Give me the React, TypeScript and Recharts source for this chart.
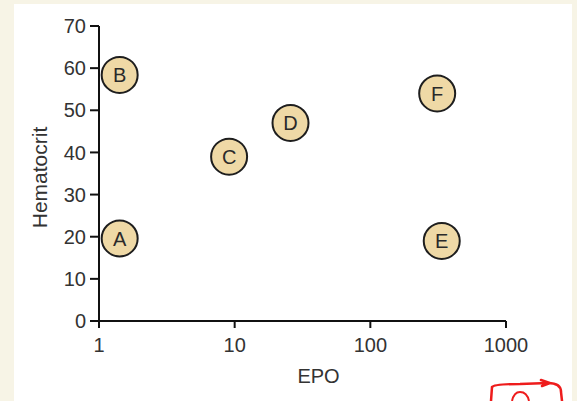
import { Scatter, ScatterChart, XAxis, YAxis, Label } from "recharts";

const pointLabels = ["A", "B", "C", "D", "E", "F"];
const epoValues = [1.42, 1.42, 9.1, 25.8, 336, 311];
const hematocritValues = [19.6, 58.4, 39, 47, 19, 54];
const xTicks = [1, 10, 100, 1000];
const yTicks = [0, 10, 20, 30, 40, 50, 60, 70];

const data = pointLabels.map((name, i) => ({
  name,
  epo: epoValues[i],
  hct: hematocritValues[i],
}));

const FONT = "'Liberation Sans', Arial, Helvetica, sans-serif";

const Dot = (props: any) => {
  const { cx, cy, payload } = props;
  return (
    <g>
      <circle cx={cx} cy={cy} r={18} fill="#efd9a6" stroke="#1e1e1e" strokeWidth={2} />
      <text
        x={cx}
        y={cy}
        dy="0.36em"
        textAnchor="middle"
        fontSize={20}
        fontFamily={FONT}
        fill="#2a2a2a"
      >
        {payload.name}
      </text>
    </g>
  );
};

const App = () => {
  return (
    <div style={{ position: "absolute", left: 0, top: 0, width: 577, height: 401, background: "#f7f4e6" }}>
      <div style={{ position: "absolute", left: 14, top: 4, width: 558, height: 397, background: "#ffffff" }} />
      <div style={{ position: "absolute", left: 0, top: 0 }}>
        <ScatterChart width={577} height={401} margin={{ top: 26, right: 71, bottom: 20, left: 39 }}>
          <XAxis
            type="number"
            dataKey="epo"
            scale="log"
            domain={[1, 1000]}
            ticks={xTicks}
            allowDataOverflow
            height={60}
            stroke="#111"
            strokeWidth={2}
            tickSize={7}
            tickMargin={10}
            tick={{ fill: "#333", fontSize: 20, fontFamily: FONT }}
          >
            <Label value="EPO" position="insideBottom" offset={-2} dx={16} fill="#333" fontSize={20} fontFamily={FONT} />
          </XAxis>
          <YAxis
            type="number"
            dataKey="hct"
            domain={[0, 70]}
            ticks={yTicks}
            width={60}
            stroke="#111"
            strokeWidth={2}
            tickSize={9}
            tickMargin={4}
            tick={{ fill: "#333", fontSize: 20, fontFamily: FONT }}
          >
            <Label
              value="Hematocrit"
              angle={-90}
              position="insideLeft"
              offset={-4}
              dy={4}
              dx={5}
              style={{ textAnchor: "middle" }}
              fill="#333"
              fontSize={21}
              fontFamily={FONT}
            />
          </YAxis>
          <Scatter data={data} shape={<Dot />} isAnimationActive={false} />
        </ScatterChart>
      </div>
      <svg style={{ position: "absolute", left: 0, top: 0 }} width={577} height={401}>
        <path
          d="M491,401 L492,387 Q494,384 520,384 L548,383 M541,380 L550,383 L542,386 M548,383 Q561,383 561,392 L562,401"
          fill="none"
          stroke="#ee1c1c"
          strokeWidth={2.5}
          strokeLinecap="round"
        />
        <path d="M512,401 Q514,392 520,392 Q527,392 529,401" fill="none" stroke="#ee1c1c" strokeWidth={2} />
      </svg>
    </div>
  );
};

export default App;
